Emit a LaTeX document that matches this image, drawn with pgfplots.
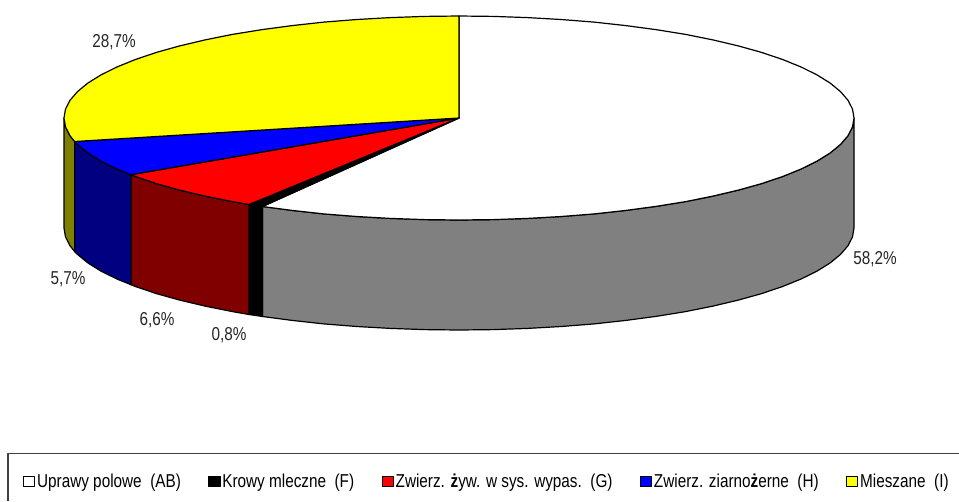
\documentclass[border=0pt]{standalone}
\usepackage{pgfplots}
\pgfplotsset{compat=1.18}
\usepackage{fontspec}
\setmainfont[FakeStretch=0.82]{Liberation Sans}
\definecolor{pieolive}{RGB}{128,128,0}
\definecolor{pienavy}{RGB}{0,0,128}
\definecolor{piemaroon}{RGB}{128,0,0}
\definecolor{piegray}{RGB}{128,128,128}
\definecolor{pieyellow}{RGB}{255,255,0}
\definecolor{piered}{RGB}{255,0,0}
\definecolor{pieblue}{RGB}{0,0,255}
\begin{document}
\begin{tikzpicture}
\begin{axis}[
  x=0.75pt,y=0.75pt,y dir=reverse,
  xmin=0,xmax=959,ymin=0,ymax=501,
  hide axis,
  line join=round,
  legend style={at={(axis cs:23,481.5)},anchor=west,draw=none,fill=none,
    font=\fontsize{14}{16}\selectfont,
    inner sep=0pt,outer sep=0pt,
    legend cell align=left,
    nodes={inner xsep=1.5pt,inner ysep=0pt},
    /tikz/every even column/.append style={column sep=19pt}},
  legend columns=5,
  legend image code/.code={\draw[#1,draw=black,line width=0.6pt] (0pt,-4pt) rectangle (8.5pt,4pt);},
]
% --- side walls (forget plot)
\addplot[forget plot,fill=piegray,draw=black,line width=0.9pt] coordinates {
(854,118)(852.5,126.9)(848,135.7)(840.5,144.4)(830.2,152.9)(817,161.1)(801.1,169)(782.6,176.5)(761.6,183.6)(738.3,190.1)(712.9,196.1)(685.6,201.6)(656.5,206.3)(625.9,210.4)(594.1,213.9)(561.2,216.5)(527.6,218.4)(493.4,219.6)(459,220)(424.6,219.6)(390.4,218.4)(356.8,216.5)(323.9,213.9)(292.1,210.4)(262.5,206.5)
(262.5,316.5)(292.1,320.4)(323.9,323.9)(356.8,326.5)(390.4,328.4)(424.6,329.6)(459,330)(493.4,329.6)(527.6,328.4)(561.2,326.5)(594.1,323.9)(625.9,320.4)(656.5,316.3)(685.6,311.6)(712.9,306.1)(738.3,300.1)(761.6,293.6)(782.6,286.5)(801.1,279)(817,271.1)(830.2,262.9)(840.5,254.4)(848,245.7)(852.5,236.9)(854,228)
} -- cycle;
\addplot[forget plot,fill=black,draw=black,line width=0.9pt] coordinates {
(262.5,206.5)(249,204.5)(249,314.5)(262.5,316.5)} -- cycle;
\addplot[forget plot,fill=piemaroon,draw=black,line width=0.9pt] coordinates {
(249,204.5)(232.4,201.6)(205.1,196.1)(179.7,190.1)(156.4,183.6)(135.4,176.5)(131,174.7)
(131,284.7)(135.4,286.5)(156.4,293.6)(179.7,300.1)(205.1,306.1)(232.4,311.6)(249,314.5)} -- cycle;
\addplot[forget plot,fill=pienavy,draw=black,line width=0.9pt] coordinates {
(131,174.7)(116.9,169)(101,161.1)(87.8,152.9)(77.5,144.4)(74.6,141.5)
(74.6,251.5)(77.5,254.4)(87.8,262.9)(101,271.1)(116.9,279)(131,284.7)} -- cycle;
\addplot[forget plot,fill=pieolive,draw=black,line width=0.9pt] coordinates {
(74.6,141.5)(70,135.7)(65.5,126.9)(64,118)(64,228)(65.5,236.9)(70,245.7)(74.6,251.5)} -- cycle;
% --- top faces
\addplot[fill=white,draw=black,line width=0.9pt] coordinates {
(459,118)(459,16)(493.4,16.4)(527.6,17.6)(561.2,19.5)(594.1,22.1)(625.9,25.6)(656.5,29.7)(685.6,34.4)(712.9,39.9)(738.3,45.9)(761.6,52.4)(782.6,59.5)(801.1,67)(817,74.9)(830.2,83.1)(840.5,91.6)(848,100.3)(852.5,109.1)(854,118)(852.5,126.9)(848,135.7)(840.5,144.4)(830.2,152.9)(817,161.1)(801.1,169)(782.6,176.5)(761.6,183.6)(738.3,190.1)(712.9,196.1)(685.6,201.6)(656.5,206.3)(625.9,210.4)(594.1,213.9)(561.2,216.5)(527.6,218.4)(493.4,219.6)(459,220)(424.6,219.6)(390.4,218.4)(356.8,216.5)(323.9,213.9)(292.1,210.4)(262.5,206.5)} -- cycle;
\addlegendentry{Uprawy polowe\ \ (AB)}
\addplot[fill=black,draw=black,line width=0.9pt] coordinates {
(459,118)(262.5,206.5)(249,204.5)} -- cycle;
\addlegendentry{Krowy mleczne\ \ (F)}
\addplot[fill=piered,draw=black,line width=0.9pt] coordinates {
(459,118)(249,204.5)(232.4,201.6)(205.1,196.1)(179.7,190.1)(156.4,183.6)(135.4,176.5)(131,174.7)} -- cycle;
\addlegendentry{Zwierz. \textbf{ż}yw. w sys. wypas.\ \ (G)}
\addplot[fill=pieblue,draw=black,line width=0.9pt] coordinates {
(459,118)(131,174.7)(116.9,169)(101,161.1)(87.8,152.9)(77.5,144.4)(74.6,141.5)} -- cycle;
\addlegendentry{Zwierz. ziarno\textbf{ż}erne\ \ (H)}
\addplot[fill=pieyellow,draw=black,line width=0.9pt] coordinates {
(459,118)(74.6,141.5)(70,135.7)(65.5,126.9)(64,118)(65.5,109.1)(70,100.3)(77.5,91.6)(87.8,83.1)(101,74.9)(116.9,67)(135.4,59.5)(156.4,52.4)(179.7,45.9)(205.1,39.9)(232.4,34.4)(261.5,29.7)(292.1,25.6)(323.9,22.1)(356.8,19.5)(390.4,17.6)(424.6,16.4)(459,16)} -- cycle;
\addlegendentry{Mieszane\ \ (I)}
% --- data labels
\addplot[forget plot,only marks,mark=none,point meta=explicit symbolic,
  nodes near coords,
  nodes near coords style={anchor=center,inner sep=0pt,font=\fontsize{14}{16}\selectfont,text=black!85}]
  table[meta=label,row sep=\\] {
x y label\\
114 42 {28,7\%}\\
875 259 {58,2\%}\\
229 335 {0,8\%}\\
157 320 {6,6\%}\\
68 279 {5,7\%}\\
};
% --- legend frame (open at the image edge)
\addplot[forget plot,draw=black!75,line width=0.8pt] coordinates {(8,501)(8,453.5)(959,453.5)};
\path (axis cs:0,0) rectangle (axis cs:959,501);
\end{axis}
\end{tikzpicture}
\end{document}
